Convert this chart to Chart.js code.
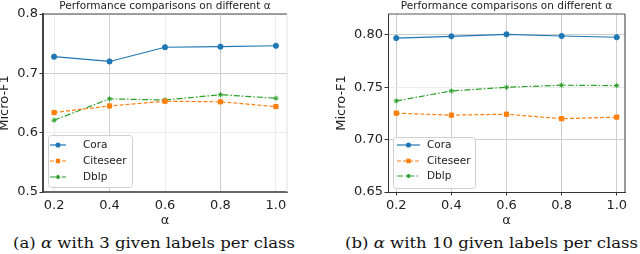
<!DOCTYPE html>
<html><head><meta charset="utf-8">
<script src="https://cdn.jsdelivr.net/npm/chart.js@4/dist/chart.umd.min.js"></script>
<style>
body{margin:0;width:640px;height:254px;background:#fff;overflow:hidden;position:relative}
canvas{position:absolute;top:0}
.cap{position:absolute;top:235px;font-family:"DejaVu Serif";font-size:15px;white-space:nowrap;color:#111;transform-origin:0 0;line-height:17px}
</style></head><body>
<canvas id="ca" style="left:0" width="320" height="230"></canvas>
<canvas id="cb" style="left:320px" width="320" height="230"></canvas>
<div class="cap" id="capA" style="left:13px">(a) <i>α</i> with 3 given labels per class</div>
<div class="cap" id="capB" style="left:345px">(b) <i>α</i> with 10 given labels per class</div>
<script>
// ---- data ----
const alphas = [0.2, 0.4, 0.6, 0.8, 1.0];
const xTickValues = [0.2, 0.4, 0.6, 0.8, 1.0];
const seriesNames = ['Cora', 'Citeseer', 'Dblp'];
const coraA = [0.728, 0.720, 0.744, 0.745, 0.7465];
const citeseerA = [0.634, 0.645, 0.653, 0.652, 0.644];
const dblpA = [0.621, 0.657, 0.655, 0.664, 0.658];
const coraB = [0.797, 0.7987, 0.8006, 0.799, 0.7978];
const citeseerB = [0.7253, 0.7234, 0.7243, 0.720, 0.7215];
const dblpB = [0.737, 0.7465, 0.750, 0.752, 0.7516];
const yTicksA = [0.5, 0.6, 0.7, 0.8];
const yTicksB = [0.65, 0.70, 0.75, 0.80];
const titleText = 'Performance comparisons on different α';
const yTitle = 'Micro-F1';
const xTitle = 'α';

const FONT = 'DejaVu Sans';
const styles = [
  {color:'#1f77b4', dash:[], pointStyle:'circle', radius:2.6},
  {color:'#ff7f0e', dash:[4,2], pointStyle:'rect', radius:3},
  {color:'#2ca02c', dash:[6,2,1.5,2], pointStyle:'star', radius:2.6}
];

const frame = {
  id:'frame',
  afterDatasetsDraw(chart, args, o){
    const {ctx, chartArea:a} = chart;
    ctx.save();
    ctx.lineWidth = o.topWidth; ctx.strokeStyle = o.topColor;
    ctx.beginPath(); ctx.moveTo(a.left, a.top); ctx.lineTo(a.right, a.top); ctx.stroke();
    ctx.lineWidth = o.rightWidth; ctx.strokeStyle = o.rightColor;
    ctx.beginPath(); ctx.moveTo(a.right, a.top); ctx.lineTo(a.right, a.bottom); ctx.stroke();
    ctx.restore();
  }
};

const boxLegend = {
  id:'boxLegend',
  afterDraw(chart, args, o){
    const ctx = chart.ctx;
    ctx.save();
    ctx.beginPath();
    ctx.roundRect(o.x+0.5, o.y+0.5, o.w, o.h, 3);
    ctx.fillStyle = 'rgba(255,255,255,0.85)'; ctx.fill();
    ctx.strokeStyle = '#d0d0d0'; ctx.lineWidth = 1; ctx.stroke();
    chart.data.datasets.forEach((ds, i) => {
      const y = o.rows[i];
      ctx.strokeStyle = ds.borderColor; ctx.lineWidth = ds.borderWidth;
      ctx.setLineDash(ds.borderDash || []);
      ctx.beginPath(); ctx.moveTo(o.lx0, y); ctx.lineTo(o.lx1, y); ctx.stroke();
      ctx.setLineDash([]);
      ctx.fillStyle = ds.pointBackgroundColor; ctx.strokeStyle = ds.borderColor;
      Chart.helpers.drawPoint(ctx, {pointStyle: ds.pointStyle, radius: ds.pointRadius * o.markerScale, borderWidth: 1, rotation: 0}, (o.lx0+o.lx1)/2, y);
      ctx.fillStyle = '#222'; ctx.font = o.fontSize + 'px "' + FONT + '"';
      ctx.textBaseline = 'middle'; ctx.textAlign = 'left';
      ctx.fillText(ds.label, o.tx, y);
    });
    ctx.restore();
  }
};

function makeChart(id, series, yTicks, cfg){
  const datasets = series.map((vals, i) => ({
    label: seriesNames[i],
    data: alphas.map((a, k) => ({x: a, y: vals[k]})),
    borderColor: styles[i].color,
    backgroundColor: styles[i].color,
    pointBackgroundColor: styles[i].color,
    pointBorderColor: styles[i].color,
    borderWidth: 1.2,
    borderDash: styles[i].dash,
    pointStyle: styles[i].pointStyle,
    pointRadius: styles[i].radius,
    pointBorderWidth: 1,
    tension: 0,
    fill: false
  }));
  return new Chart(document.getElementById(id), {
    type: 'line',
    data: {datasets},
    plugins: [frame, boxLegend],
    options: {
      responsive: false, animation: false, devicePixelRatio: 1,
      layout: {padding: {left: 0, right: cfg.padRight, top: 0, bottom: 0}},
      plugins: {
        legend: {display: false},
        tooltip: {enabled: false},
        title: {display: true, text: titleText, fullSize: false, color: '#222',
          font: {family: FONT, size: 10.5, weight: 'normal', lineHeight: 1.2},
          padding: {top: 0, bottom: 1.4}},
        frame: cfg.frame,
        boxLegend: cfg.legend
      },
      scales: {
        x: {
          type: 'linear', min: cfg.xMin, max: cfg.xMax,
          afterBuildTicks: s => { s.ticks = xTickValues.map(v => ({value: v})); },
          afterFit: s => { s.height = 38; },
          ticks: {color: '#222', font: {family: FONT, size: 13}, padding: 2,
            callback: v => v.toFixed(1), maxRotation: 0, autoSkip: false},
          grid: {color: c => cfg.xStrong.includes(c.tick && c.tick.value) ? '#cfcfcf' : '#ececec',
            tickLength: 3.5, tickColor: cfg.xTickColor, lineWidth: 1},
          border: cfg.xBorder,
          title: {display: true, text: xTitle, color: '#222', font: {family: FONT, size: 13}, padding: {top: 0, bottom: 2}}
        },
        y: {
          type: 'linear', min: cfg.yMin, max: cfg.yMax,
          afterBuildTicks: s => { s.ticks = yTicks.map(v => ({value: v})); },
          afterFit: s => { s.width = cfg.yWidth; },
          ticks: {color: '#222', font: {family: FONT, size: 13}, padding: 1.5,
            callback: v => v.toFixed(cfg.dec), autoSkip: false},
          grid: {color: c => cfg.yStrong.includes(c.tick && c.tick.value) ? '#cfcfcf' : '#ececec',
            tickLength: 3.5, tickColor: '#333', lineWidth: 1},
          border: cfg.yBorder,
          title: {display: true, text: yTitle, color: '#222', font: {family: FONT, size: 13}, padding: {top: cfg.yTitlePad, bottom: 0}}
        }
      }
    }
  });
}

makeChart('ca', [coraA, citeseerA, dblpA], yTicksA, {
  padRight: 33, yWidth: 43, dec: 1, yTitlePad: -3,
  xMin: 0.16, xMax: 1.04, yMin: 0.5, yMax: 0.8,
  xStrong: [0.4, 0.8], yStrong: [0.7],
  xTickColor: 'rgba(0,0,0,0)',
  xBorder: {color: '#666', width: 2}, yBorder: {color: '#444', width: 2},
  frame: {topColor: '#444', topWidth: 1, rightColor: '#e0e0e0', rightWidth: 1},
  legend: {x: 48, y: 135, w: 84, h: 52, lx0: 50, lx1: 66, tx: 83, rows: [145, 161, 177], fontSize: 10.5, markerScale: 0.75}
});
makeChart('cb', [coraB, citeseerB, dblpB], yTicksB, {
  padRight: 15, yWidth: 68, dec: 2, yTitlePad: 14,
  xMin: 0.17, xMax: 1.03, yMin: 0.65, yMax: 0.82,
  xStrong: [0.2, 0.4, 0.6, 0.8, 1.0], yStrong: [0.7, 0.8],
  xTickColor: '#333',
  xBorder: {color: '#333', width: 1}, yBorder: {color: '#333', width: 1},
  frame: {topColor: '#555', topWidth: 1, rightColor: '#333', rightWidth: 1},
  legend: {x: 73, y: 137, w: 82, h: 51, lx0: 77, lx1: 100, tx: 107, rows: [145, 161, 176], fontSize: 10.5, markerScale: 0.75}
});

function fitCap(id, target){
  const el = document.getElementById(id);
  const w = el.getBoundingClientRect().width;
  el.style.transform = 'scaleX(' + (target / w) + ')';
}
fitCap('capA', 282);
fitCap('capB', 293);
</script>
</body></html>
